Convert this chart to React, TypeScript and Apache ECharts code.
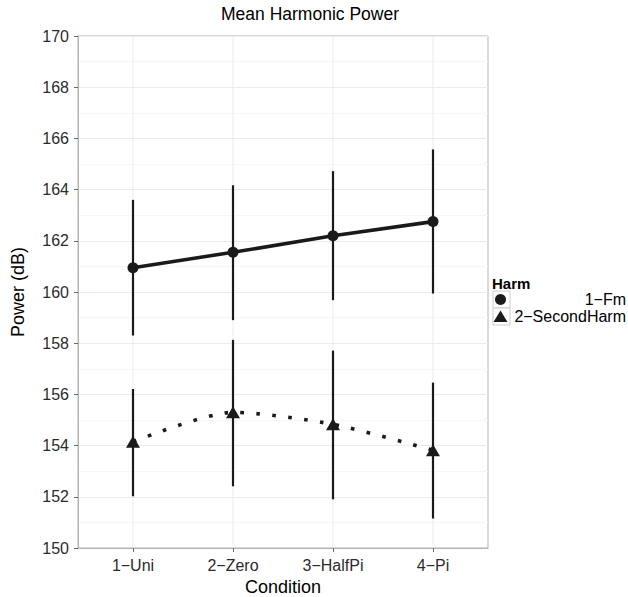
import React, { useEffect, useRef } from "react";
import * as echarts from "echarts";

const categories = ["1−Uni", "2−Zero", "3−HalfPi", "4−Pi"];
const fmMean = [160.95, 161.55, 162.2, 162.75];
const fmLow = [158.3, 158.9, 159.68, 159.94];
const fmHigh = [163.6, 164.17, 164.72, 165.57];
const shMean = [154.15, 155.3, 154.83, 153.82];
const shLow = [152.02, 152.41, 151.9, 151.15];
const shHigh = [156.21, 158.13, 157.71, 156.46];
const seriesNames = ["1−Fm", "2−SecondHarm"];
const yMin = 150;
const yMax = 170;
const yStep = 2;

const FONT = "Liberation Sans, Arial, Helvetica, sans-serif";
const INK = "#1a1a1a";

export default function App() {
  const ref = useRef<HTMLDivElement>(null);
  useEffect(() => {
    if (!ref.current) return;
    document.body.style.margin = "0";
    const chart = echarts.init(ref.current, undefined, { renderer: "svg" });
    const xs = categories.map((_, i) => i + 1);
    const errData: number[][] = [];
    xs.forEach((x, i) => {
      errData.push([x, fmLow[i], fmHigh[i]]);
      errData.push([x, shLow[i], shHigh[i]]);
    });
    const option: any = {
      animation: false,
      backgroundColor: "#ffffff",
      textStyle: { fontFamily: FONT },
      grid: {
        left: 78,
        right: 140,
        top: 36,
        bottom: 49,
        show: true,
        borderColor: "#b3b3b3",
        borderWidth: 1,
        backgroundColor: "#ffffff",
      },
      xAxis: {
        type: "value",
        min: 0.45,
        max: 4.55,
        axisLine: { show: true, lineStyle: { color: "#b3b3b3", width: 1 } },
        axisTick: {
          show: true,
          customValues: xs,
          length: 4,
          lineStyle: { color: "#666", width: 1 },
        },
        axisLabel: {
          customValues: xs,
          formatter: (v: number) => categories[Math.round(v) - 1] ?? "",
          color: "#2b2b2b",
          fontSize: 16,
          fontFamily: FONT,
          margin: 9,
        },
        splitLine: { show: false },
      },
      yAxis: {
        type: "value",
        min: yMin,
        max: yMax,
        interval: yStep,
        axisLine: { show: true, lineStyle: { color: "#b3b3b3", width: 1 } },
        axisTick: { show: true, length: 4, lineStyle: { color: "#666", width: 1 } },
        axisLabel: { color: "#2b2b2b", fontSize: 16, fontFamily: FONT, margin: 9 },
        splitLine: { show: true, lineStyle: { color: "#ebebeb", width: 1 } },
        minorTick: { show: false, splitNumber: 2 },
        minorSplitLine: { show: true, lineStyle: { color: "#f6f6f6", width: 1 } },
      },
      series: [
        {
          type: "custom",
          name: "vgrid",
          silent: true,
          z: 1,
          data: xs.map((x) => [x]),
          renderItem: (params: any, api: any) => {
            const x = api.value(0);
            const p1 = api.coord([x, yMin]);
            const p2 = api.coord([x, yMax]);
            return {
              type: "line",
              shape: { x1: p1[0], y1: p1[1], x2: p2[0], y2: p2[1] },
              style: { stroke: "#ebebeb", lineWidth: 1 },
            };
          },
        },
        {
          type: "custom",
          name: "errorbars",
          silent: true,
          z: 3,
          data: errData,
          renderItem: (params: any, api: any) => {
            const x = api.value(0);
            const p1 = api.coord([x, api.value(1)]);
            const p2 = api.coord([x, api.value(2)]);
            return {
              type: "line",
              shape: { x1: p1[0], y1: p1[1], x2: p2[0], y2: p2[1] },
              style: { stroke: INK, lineWidth: 2.2 },
            };
          },
        },
        {
          type: "line",
          name: seriesNames[0],
          z: 4,
          data: xs.map((x, i) => [x, fmMean[i]]),
          symbol: "circle",
          symbolSize: 11,
          itemStyle: { color: INK },
          lineStyle: { color: INK, width: 3.6 },
        },
        {
          type: "line",
          name: seriesNames[1],
          z: 4,
          smooth: 0.25,
          data: xs.map((x, i) => [x, shMean[i]]),
          symbol: "triangle",
          symbolSize: [14, 12],
          itemStyle: { color: INK },
          lineStyle: { color: INK, width: 3.6, type: [3.6, 12.4], cap: "butt" },
        },
      ],
      graphic: [
        {
          type: "text",
          x: 310,
          y: 14,
          style: {
            text: "Mean Harmonic Power",
            fill: "#000",
            font: `17.5px ${FONT}`,
            align: "center",
            verticalAlign: "middle",
          },
        },
        {
          type: "text",
          x: 18,
          y: 292,
          rotation: Math.PI / 2,
          style: {
            text: "Power (dB)",
            fill: "#000",
            font: `18px ${FONT}`,
            align: "center",
            verticalAlign: "middle",
          },
        },
        {
          type: "text",
          x: 283,
          y: 587,
          style: {
            text: "Condition",
            fill: "#000",
            font: `18px ${FONT}`,
            align: "center",
            verticalAlign: "middle",
          },
        },
        {
          type: "text",
          x: 492,
          y: 283,
          style: {
            text: "Harm",
            fill: "#000",
            font: `bold 15px ${FONT}`,
            verticalAlign: "middle",
          },
        },
        {
          type: "rect",
          shape: { x: 493, y: 291, width: 17, height: 17 },
          style: { fill: "#fff", stroke: "#cccccc", lineWidth: 1 },
        },
        {
          type: "rect",
          shape: { x: 493, y: 308, width: 17, height: 17 },
          style: { fill: "#fff", stroke: "#cccccc", lineWidth: 1 },
        },
        {
          type: "circle",
          shape: { cx: 500.5, cy: 299.5, r: 5.5 },
          style: { fill: INK },
        },
        {
          type: "polygon",
          shape: { points: [[500.5, 310.5], [507.5, 322], [493.5, 322]] },
          style: { fill: INK },
        },
        {
          type: "text",
          x: 626,
          y: 299.5,
          style: {
            text: seriesNames[0],
            fill: "#000",
            font: `16px ${FONT}`,
            align: "right",
            verticalAlign: "middle",
          },
        },
        {
          type: "text",
          x: 626,
          y: 316.5,
          style: {
            text: seriesNames[1],
            fill: "#000",
            font: `16px ${FONT}`,
            align: "right",
            verticalAlign: "middle",
          },
        },
      ],
    };
    chart.setOption(option);
    return () => chart.dispose();
  }, []);
  return <div ref={ref} style={{ width: 628, height: 597 }} />;
}
